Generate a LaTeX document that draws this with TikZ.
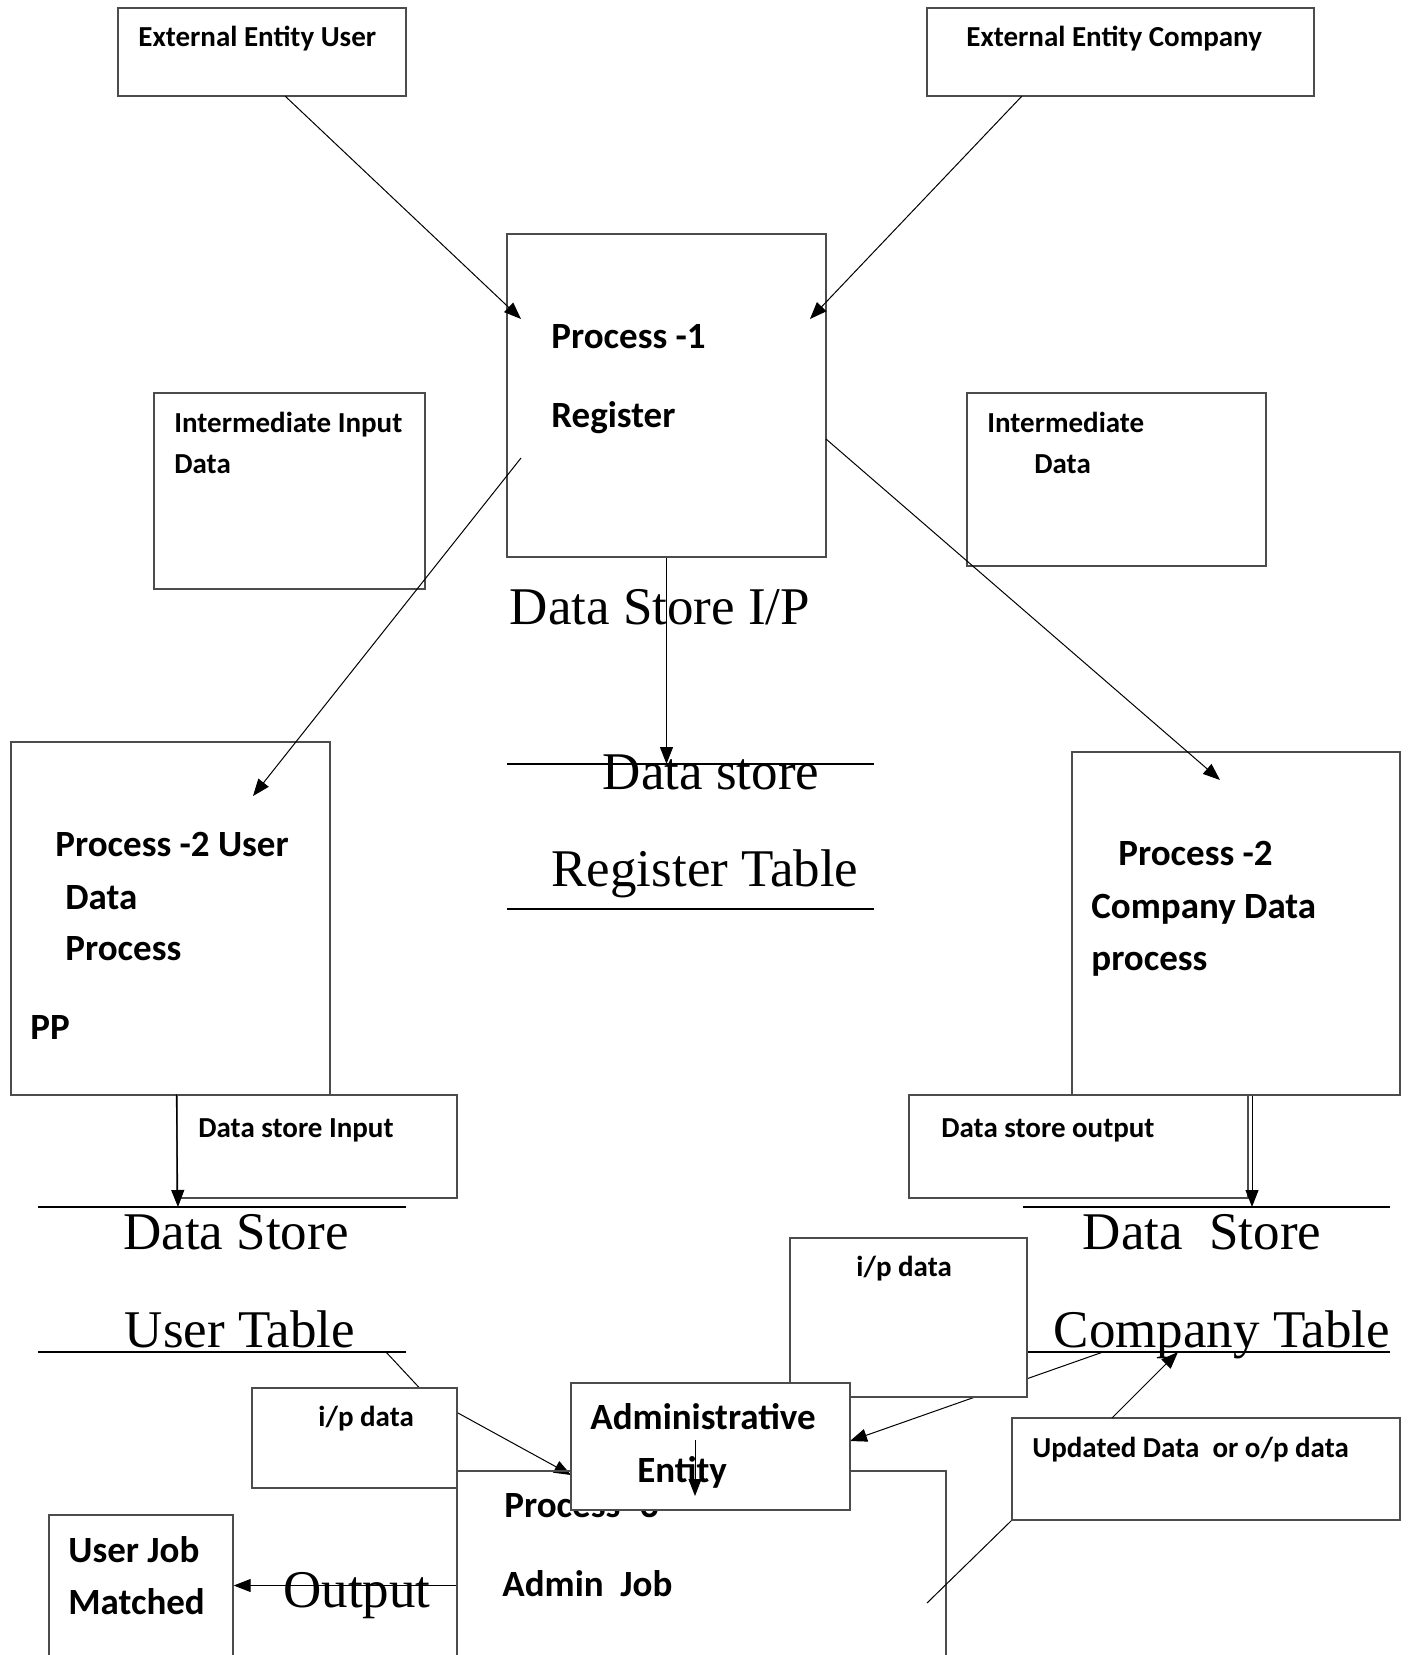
\documentclass[tikz,border=0pt]{standalone}
\usepackage{fontspec}
\setmainfont{Liberation Serif}
\newfontfamily\carlito{Carlito}
\usetikzlibrary{arrows.meta,fit,backgrounds}

\tikzset{
  box/.style={draw=black!70,line width=0.7pt,fill=white,inner sep=0pt},
  small/.style={font=\carlito\bfseries\fontsize{14.5}{17}\selectfont,anchor=base west,inner sep=0pt},
  large/.style={font=\carlito\bfseries\fontsize{18.5}{22}\selectfont,anchor=base west,inner sep=0pt},
  store/.style={font=\fontsize{26.5}{30}\selectfont,anchor=base,inner sep=0pt},
  flow/.style={-{Triangle[length=8.5pt,width=6.5pt]},line width=0.5pt},
  rule/.style={line width=0.6pt},
}

\begin{document}
\begin{tikzpicture}[x=0.5pt,y=-0.5pt]
\useasboundingbox (0,0) rectangle (1412,1655);
\clip (0,0) rectangle (1412,1655);
% boxes
\foreach \n/\a/\b/\c/\d in {eu/118/8/406/96,ec/927/8/1314/96,p1/507/234/826/557,iid/154/393/425/589,imd/967/393/1266/566,p2u/11/742/330/1095,p2c/1072/752/1400/1095,dsi/177/1095/457/1198,dso/909/1095/1248/1198,ipr/790/1238/1027/1397,ipl/252/1388/457/1488,upd/1012/1418/1400/1520,ujm/49/1515/233/1700}{
  \node[box,fit={(\a,\b) (\c,\d)}] (\n) {};
}
% process 3 lies under the admin box
\node[box,fill=none,fit={(457,1471) (946,1700)}] (p3) {};
\node[large] at (504,1517) {Process -3};
\node[box,fit={(571,1383) (850,1510)}] (adm) {};

% end points
\coordinate (eu-out) at (285,96);
\coordinate (p1-inl) at (521,319);
\coordinate (ec-out) at (1022,96);
\coordinate (p1-inr) at (810,319);
\coordinate (p1-outl) at (521,458);
\coordinate (p2u-in) at (253,796);
\coordinate (p1-outr) at (826,439);
\coordinate (p2c-in) at (1220,780);
\coordinate (rt-in) at (p1.south |- 0,764);
\coordinate (ut-in) at (178,1207);
\coordinate (ct-in) at (1252,1207);
\coordinate (ut-out) at (386,1352);
\coordinate (ipl-mid) at (427,1396);
\coordinate (adm-inl) at (571,1475);
\coordinate (ct-out) at (1103,1352);
\coordinate (adm-inr) at (850,1441);
\coordinate (upd-out) at (1112,1418);
\coordinate (ct-up) at (1178,1352);
\coordinate (upd-low) at (927,1603);
\coordinate (adm-down) at (695,1440);
\coordinate (p3-in) at (695,1496);

% data stores and hidden flows
\begin{pgfonlayer}{background}
\draw[rule] (507,764) -- (874,764) (507,909) -- (874,909);
\draw[rule] (38,1207) -- (406,1207) (38,1352) -- (406,1352);
\draw[rule] (1023,1207) -- (1390,1207) (1023,1352) -- (1390,1352);
\draw[flow] (ut-out) -- (ipl-mid) -- (adm-inl);
\draw[flow] (ct-out) -- (adm-inr);
\end{pgfonlayer}

% labels
\node[small] at (138,46) {External Entity User};
\node[small] at (966,46) {External Entity Company};
\node[large] at (551,348) {Process -1};
\node[large] at (551,427) {Register};
\node[small] at (174,432) {Intermediate Input};
\node[small] at (174,473) {Data};
\node[small] at (987,432) {Intermediate};
\node[small] at (1034,473) {Data};
\node[large] at (55,856) {Process -2 User};
\node[large] at (65,909) {Data};
\node[large] at (65,960) {Process};
\node[large] at (30,1039) {PP};
\node[large] at (1118,865) {Process -2};
\node[large] at (1091,918) {Company Data};
\node[large] at (1091,970) {process};
\node[small] at (198,1137) {Data store Input};
\node[small] at (941,1137) {Data store output};
\node[small] at (856,1276) {i/p data};
\node[small] at (318,1426) {i/p data};
\node[large] at (590,1429) {Administrative};
\node[large] at (637,1482) {Entity};
\node[large] at (502,1596) {Admin\ \ Job};
\node[large] at (68,1562) {User Job};
\node[large] at (68,1614) {Matched};
\node[small] at (1032,1457) {Updated Data\ \ or o/p data};

\node[store] at (660,624) {Data Store I/P};
\node[store] at (711,789) {Data store};
\node[store] at (705,886) {Register Table};
\node[store] at (236,1249) {Data Store};
\node[store] at (240,1347) {User Table};
\node[store] at (1202,1249) {Data\ \ Store};
\node[store] at (1222,1347) {Company Table};
\node[store] at (357,1607) {Output};

% flows
\draw[flow] (eu-out) -- (p1-inl);
\draw[flow] (ec-out) -- (p1-inr);
\draw[flow] (p1-outl) -- (p2u-in);
\draw[flow] (p1-outr) -- (p2c-in);
\draw[flow] (p1.south) -- (rt-in);
\draw[flow] (dsi.north west) -- (ut-in);
\draw[flow] (ct-in |- p2c.south) -- (ct-in);
\draw[flow] (upd-out) -- (ct-up);
\draw[line width=0.5pt] (upd.south west) -- (upd-low);
\draw[flow] (adm-down) -- (p3-in);
\draw[flow] (p3.west) -- (p3.west -| ujm.east);
\end{tikzpicture}
\end{document}
